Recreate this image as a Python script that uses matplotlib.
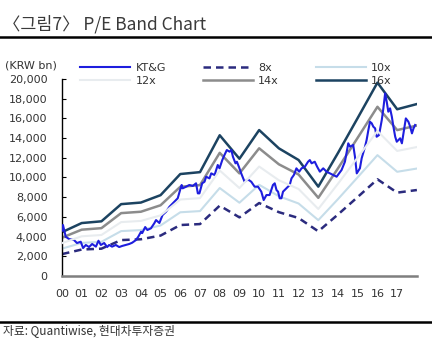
import matplotlib
matplotlib.use("Agg")
import matplotlib.pyplot as plt
import numpy as np

plt.rcParams['font.family'] = ['DejaVu Sans', 'Noto Sans CJK KR']

# band vertices: one per year start (00 .. 18), EPS in KRW bn
band_years = list(range(19))
eps = [278, 336, 347, 456, 466, 513, 647, 659, 893, 744, 926, 810, 736, 567,
       781, 1003, 1227, 1058, 1091]
multiples = [8, 10, 12, 14, 16]

# KT&G market cap (KRW bn)
kt_t = [0.00, 0.03, 0.05, 0.19, 0.36, 0.61, 0.76, 0.95, 1.07, 1.21, 1.37, 1.53,
        1.72, 1.85, 1.97, 2.14, 2.29, 2.39, 2.54, 2.73, 2.90, 3.05, 3.24, 3.41,
        3.56, 3.75, 3.87, 4.01, 4.07, 4.22, 4.33, 4.51, 4.68, 4.77, 4.94, 5.10,
        5.28, 5.45, 5.70, 5.87, 5.99, 6.07, 6.12, 6.30, 6.46, 6.63, 6.80, 6.89,
        6.97, 7.11, 7.23, 7.31, 7.48, 7.57, 7.74, 7.90, 7.99, 8.13, 8.24, 8.36,
        8.50, 8.59, 8.67, 8.80, 8.87, 8.97, 9.09, 9.26, 9.43, 9.60, 9.77, 9.94,
        10.11, 10.23, 10.37, 10.53, 10.70, 10.79, 10.88, 10.96, 11.04, 11.13,
        11.21, 11.38, 11.55, 11.64, 11.76, 11.89, 12.03, 12.15, 12.32, 12.48,
        12.57, 12.66, 12.82, 12.94, 13.08, 13.25, 13.42, 13.59, 13.93, 14.18,
        14.35, 14.52, 14.61, 14.77, 14.86, 14.95, 15.11, 15.20, 15.37, 15.45,
        15.54, 15.62, 15.71, 15.79, 15.88, 15.96, 16.08, 16.22, 16.30, 16.39,
        16.47, 16.55, 16.64, 16.73, 16.81, 16.90, 16.98, 17.15, 17.24, 17.32,
        17.44, 17.57, 17.66, 17.75, 17.83, 17.91]
kt_v = [4600, 4900, 5180, 3990, 3750, 3650, 3350, 3480, 2840, 3150, 2940, 3250,
        2980, 3580, 3150, 3350, 2940, 3150, 2980, 3150, 2940, 3050, 3150, 3250,
        3380, 3650, 3990, 4500, 4360, 4970, 4670, 4840, 5350, 5680, 5380, 6190,
        6530, 7030, 7540, 7890, 8730, 9240, 8900, 9070, 9240, 9140, 9410, 8390,
        8390, 9410, 9570, 10080, 9910, 10420, 10250, 11270, 10930, 11770, 12280, 12790,
        12620, 12790, 12110, 11440, 11600, 11100, 10420, 9570, 9810, 9570, 9070, 9070,
        8560, 7710, 8220, 8220, 9240, 9410, 8730, 8560, 7890, 7890,
        8560, 8900, 9240, 9910, 10250, 10930, 10590, 10930, 11100, 11600,
        11770, 11440, 11600, 11100, 10590, 10930, 10590, 10420, 10080, 10760,
        11600, 13470, 13130, 13300, 12110, 10420, 10930, 11950, 13130, 13800,
        14820, 15660, 15500, 15160, 14990, 14140, 14310, 15840, 17020, 18540,
        17700, 16680, 17020, 16170, 15160, 14140, 13630, 13980, 13470, 14480,
        16000, 15660, 15160, 14480, 14990, 15330]

year_labels = ['%02d' % y for y in range(18)]
y_ticks = list(range(0, 20001, 2000))

band_style = {
    8: dict(color='#2b2b7e', lw=1.8, ls=(0, (3, 2))),
    10: dict(color='#c6dde9', lw=1.5),
    12: dict(color='#e8ecef', lw=1.5),
    14: dict(color='#8c8c8c', lw=1.8),
    16: dict(color='#1c4361', lw=1.8),
}

fig = plt.figure(figsize=(4.32, 3.55), dpi=100)
ax = fig.add_axes([0.1435, 0.2225, 0.8215, 0.555])

eps_arr = np.array(eps)
handles = {}
kt_line, = ax.plot(kt_t, kt_v, color='#1e1ede', lw=1.5, zorder=3, label='KT&G')
handles['KT&G'] = kt_line
for m in multiples:
    z = 4 if m == 12 else 2
    h, = ax.plot(band_years, eps_arr * m, zorder=z, label=f'{m}x', **band_style[m])
    handles[f'{m}x'] = h

ax.set_xlim(0, 18)
ax.set_ylim(0, 20000)
ax.set_xticks(range(18))
ax.set_xticklabels(year_labels)
ax.set_yticks(y_ticks)
ax.set_yticklabels([f'{v:,}' for v in y_ticks])
ax.tick_params(axis='x', length=0, pad=9, labelsize=8, labelcolor='#333333')
ax.tick_params(axis='y', direction='in', length=3, width=0.8, pad=10.5,
               labelsize=8, labelcolor='#333333')
for s in ['top', 'right']:
    ax.spines[s].set_visible(False)
ax.spines['left'].set_color('black')
ax.spines['left'].set_linewidth(1.0)
ax.spines['bottom'].set_color('#7f7f7f')
ax.spines['bottom'].set_linewidth(1.8)

# matplotlib fills legend column-wise, so reorder for row-wise layout
col_order = ['KT&G', '12x', '8x', '14x', '10x', '16x']
fig.legend([handles[k] for k in col_order], col_order, ncol=3,
           loc='upper left', bbox_to_anchor=(0.175, 0.835), frameon=False,
           fontsize=8, handlelength=4.5, handletextpad=0.5,
           columnspacing=3.3, labelspacing=0.25, borderaxespad=0,
           labelcolor='#333333')

fig.text(0.012, 0.815, '(KRW bn)', fontsize=8, color='#333333', va='center')
fig.text(0.008, 0.932, '〈그림7〉 P/E Band Chart', fontsize=12.5, color='#3a3a3a',
         va='center', fontweight='light',
         family=['Noto Sans CJK KR', 'DejaVu Sans'])
fig.text(0.008, 0.065, '자료: Quantiwise, 현대차투자증권', fontsize=8.5,
         color='#333333', va='center', fontweight='light',
         family=['Noto Sans CJK KR', 'DejaVu Sans'])

fig.add_artist(plt.Line2D([0, 1], [0.896, 0.896], color='black', lw=1.8,
                          transform=fig.transFigure))
fig.add_artist(plt.Line2D([0, 1], [0.093, 0.093], color='black', lw=1.8,
                          transform=fig.transFigure))

fig.savefig('out.png', dpi=100)
